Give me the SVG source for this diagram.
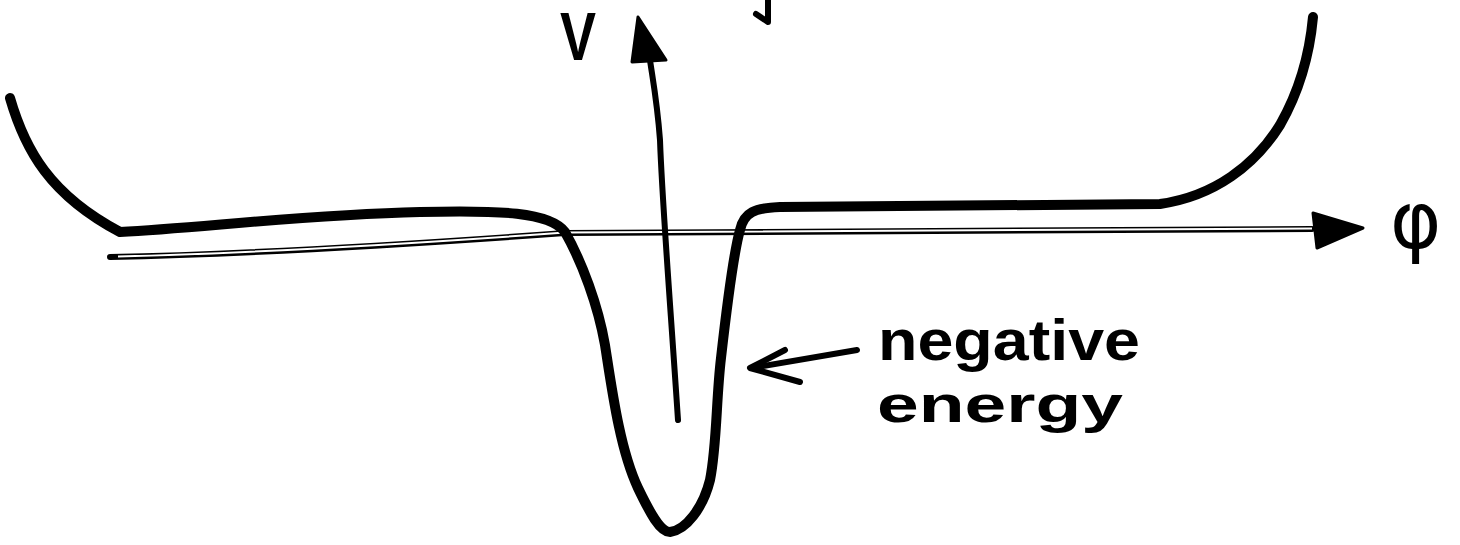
<svg xmlns="http://www.w3.org/2000/svg" width="1460" height="545" viewBox="0 0 1460 545">
<style>
.curve{fill:none;stroke:#000;stroke-width:10;stroke-linecap:round;stroke-linejoin:round}
.axis{fill:none;stroke:#000;stroke-width:6;stroke-linecap:round}
.axisin{fill:none;stroke:#fff;stroke-width:2}
.pen{fill:none;stroke:#000;stroke-width:6;stroke-linecap:round;stroke-linejoin:round}
.head{fill:#000;stroke:#000;stroke-width:3;stroke-linejoin:round}
.lbl{font-family:"Liberation Sans","DejaVu Sans",sans-serif;font-weight:bold;fill:#000}
.sym{font-family:"DejaVu Sans",sans-serif;font-weight:normal;fill:#000}
</style>
<rect width="1460" height="545" fill="#fff"/>
<g id="connectors">
<g id="phi-axis">
<path class="axis" d="M110,257 C250,254 400,245 565,233 L1312,229"/>
<path class="axisin" d="M118,256.5 C250,253.5 400,244.5 565,232.5 L1312,228.5"/>
<polygon class="head" points="1313,213 1363,228 1317,248"/>
</g>
<g id="v-axis">
<path class="pen" d="M678,420 C670,300 662,200 660,140 C657,100 652,75 650,60"/>
<polygon class="head" points="638,17 666,60 632,62"/>
</g>
<g id="label-arrow">
<path class="pen" d="M857,350 L752,368"/>
<path class="pen" stroke-width="7" d="M785,350 L750,368 L800,382"/>
</g>
</g>
<g id="potential">
<path class="curve" d="M10,98 C25,150 50,195 120,232 C200,228 300,215 420,212 C500,210 550,212 565,232 C582,262 598,305 605,345 C612,390 620,450 638,488 C650,513 660,532 670,532 C686,530 703,508 710,480 C717,445 716,400 721,358 C727,305 733,255 740,230 C744,212 755,208 780,207 L1160,204 C1215,196 1255,165 1280,125 C1300,90 1310,50 1313,17"/>
</g>
<g id="mark">
<path class="pen" stroke-width="5" d="M768,0 L768,22 L756,14"/>
</g>
<g id="label-V">
<text class="lbl" x="560" y="60" font-size="68" textLength="36" lengthAdjust="spacingAndGlyphs">V</text>
</g>
<g id="label-phi">
<text class="sym" x="1390" y="248" font-size="78">φ</text>
</g>
<g id="label-negative-energy">
<text class="lbl" x="878" y="360" font-size="58" textLength="262" lengthAdjust="spacingAndGlyphs">negative</text>
<text class="lbl" x="877" y="422" font-size="52" textLength="246" lengthAdjust="spacingAndGlyphs">energy</text>
</g>
</svg>
